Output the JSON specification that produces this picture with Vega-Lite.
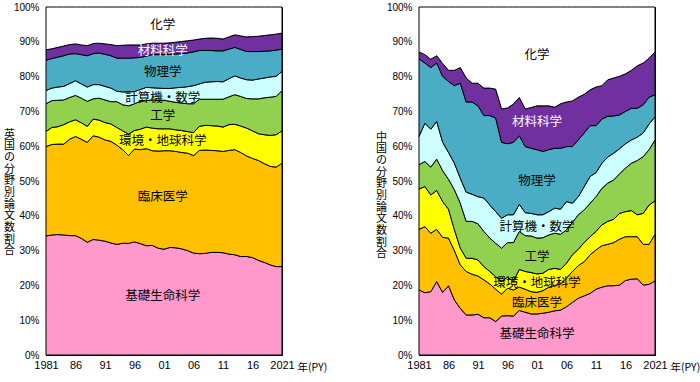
{
  "$schema": "https://vega.github.io/schema/vega-lite/v6.json",
  "background": "white",
  "padding": {"left": 3, "top": 1, "right": 0, "bottom": 5},
  "datasets": {
    "order": [
      {"分野":"基礎生命科学","順":1},
      {"分野":"臨床医学","順":2},
      {"分野":"環境・地球科学","順":3},
      {"分野":"工学","順":4},
      {"分野":"計算機・数学","順":5},
      {"分野":"物理学","順":6},
      {"分野":"材料科学","順":7},
      {"分野":"化学","順":8}
    ],
    "shares": [
      {"国":"英国","年":1981,"基礎生命科学":34.2,"臨床医学":25.7,"環境・地球科学":4.3,"工学":8.0,"計算機・数学":3.8,"物理学":8.7,"材料科学":3.0,"化学":12.3},
      {"国":"英国","年":1982,"基礎生命科学":34.5,"臨床医学":26.0,"環境・地球科学":4.9,"工学":7.7,"計算機・数学":3.6,"物理学":8.5,"材料科学":2.8,"化学":12.0},
      {"国":"英国","年":1983,"基礎生命科学":34.6,"臨床医学":26.0,"環境・地球科学":5.0,"工学":7.6,"計算機・数学":3.8,"物理学":8.6,"材料科学":2.8,"化学":11.6},
      {"国":"英国","年":1984,"基礎生命科学":34.5,"臨床医学":26.1,"環境・地球科学":5.6,"工学":7.1,"計算機・数学":3.9,"物理学":8.8,"材料科学":2.8,"化学":11.2},
      {"国":"英国","年":1985,"基礎生命科学":34.3,"臨床医学":27.7,"環境・地球科学":5.0,"工学":7.0,"計算機・数学":4.0,"物理学":8.5,"材料科学":2.7,"化学":10.8},
      {"国":"英国","年":1986,"基礎生命科学":34.3,"臨床医学":28.5,"環境・地球科学":4.8,"工学":7.0,"計算機・数学":4.2,"物理学":7.8,"材料科学":2.8,"化学":10.6},
      {"国":"英国","年":1987,"基礎生命科学":33.5,"臨床医学":28.5,"環境・地球科学":4.7,"工学":7.1,"計算機・数学":4.1,"物理学":8.4,"材料科学":2.8,"化学":10.9},
      {"国":"英国","年":1988,"基礎生命科学":32.4,"臨床医学":28.7,"環境・地球科学":4.6,"工学":7.2,"計算機・数学":4.1,"物理学":9.0,"材料科学":2.9,"化学":11.1},
      {"国":"英国","年":1989,"基礎生命科学":33.2,"臨床医学":29.8,"環境・地球科学":4.8,"工学":5.8,"計算機・数学":4.1,"物理学":8.9,"材料科学":2.9,"化学":10.5},
      {"国":"英国","年":1990,"基礎生命科学":33.0,"臨床医学":29.6,"環境・地球科学":4.9,"工学":6.3,"計算機・数学":3.9,"物理学":9.1,"材料科学":2.8,"化学":10.4},
      {"国":"英国","年":1991,"基礎生命科学":32.7,"臨床医学":29.1,"環境・地球科学":5.0,"工学":6.5,"計算機・数学":3.9,"物理学":9.2,"材料科学":3.0,"化学":10.6},
      {"国":"英国","年":1992,"基礎生命科学":32.2,"臨床医学":29.2,"環境・地球科学":5.0,"工学":6.4,"計算機・数学":3.9,"物理学":9.3,"材料科学":3.2,"化学":10.8},
      {"国":"英国","年":1993,"基礎生命科学":31.8,"臨床医学":28.5,"環境・地球科学":5.1,"工学":7.4,"計算機・数学":3.0,"物理学":9.5,"材料科学":3.6,"化学":11.1},
      {"国":"英国","年":1994,"基礎生命科学":32.1,"臨床医学":26.9,"環境・地球科学":5.4,"工学":7.5,"計算機・数学":3.7,"物理学":9.7,"材料科学":3.7,"化学":11.0},
      {"国":"英国","年":1995,"基礎生命科学":32.1,"臨床医学":25.2,"環境・地球科学":6.2,"工学":8.1,"計算機・数学":4.0,"物理学":9.7,"材料科学":3.8,"化学":10.9},
      {"国":"英国","年":1996,"基礎生命科学":32.5,"臨床医学":26.7,"環境・地球科学":5.3,"工学":7.7,"計算機・数学":3.5,"物理学":9.7,"材料科学":3.7,"化学":10.9},
      {"国":"英国","年":1997,"基礎生命科学":32.0,"臨床医学":27.0,"環境・地球科学":5.9,"工学":8.0,"計算機・数学":3.4,"物理学":9.2,"材料科学":3.6,"化学":10.9},
      {"国":"英国","年":1998,"基礎生命科学":31.4,"臨床医学":27.9,"環境・地球科学":6.2,"工学":7.6,"計算機・数学":3.8,"物理学":9.0,"材料科学":3.5,"化学":10.6},
      {"国":"英国","年":1999,"基礎生命科学":31.5,"臨床医学":27.2,"環境・地球科学":6.5,"工学":8.1,"計算機・数学":3.5,"物理学":9.5,"材料科学":3.3,"化学":10.4},
      {"国":"英国","年":2000,"基礎生命科学":30.7,"臨床医学":27.9,"環境・地球科学":6.4,"工学":8.2,"計算機・数学":3.5,"物理学":9.6,"材料科学":3.3,"化学":10.4},
      {"国":"英国","年":2001,"基礎生命科学":30.4,"臨床医学":28.3,"環境・地球科学":6.3,"工学":8.2,"計算機・数学":3.4,"物理学":9.7,"材料科学":3.3,"化学":10.4},
      {"国":"英国","年":2002,"基礎生命科学":30.9,"臨床医学":27.8,"環境・地球科学":6.3,"工学":7.9,"計算機・数学":3.7,"物理学":9.8,"材料科学":3.3,"化学":10.3},
      {"国":"英国","年":2003,"基礎生命科学":30.8,"臨床医学":27.7,"環境・地球科学":6.2,"工学":7.9,"計算機・数学":4.2,"物理学":9.7,"材料科学":3.4,"化学":10.1},
      {"国":"英国","年":2004,"基礎生命科学":30.5,"臨床医学":27.7,"環境・地球科学":6.3,"工学":7.9,"計算機・数学":4.5,"物理学":9.7,"材料科学":3.5,"化学":9.9},
      {"国":"英国","年":2005,"基礎生命科学":30.0,"臨床医学":28.0,"環境・地球科学":6.2,"工学":8.0,"計算機・数学":4.9,"物理学":9.7,"材料科学":3.5,"化学":9.7},
      {"国":"英国","年":2006,"基礎生命科学":29.3,"臨床医学":28.0,"環境・地球科学":6.6,"工学":8.3,"計算機・数学":5.2,"物理学":9.7,"材料科学":3.4,"化学":9.5},
      {"国":"英国","年":2007,"基礎生命科学":29.1,"臨床医学":29.7,"環境・地球科学":6.9,"工学":7.8,"計算機・数学":4.4,"物理学":9.6,"材料科学":3.3,"化学":9.2},
      {"国":"英国","年":2008,"基礎生命科学":29.2,"臨床医学":29.7,"環境・地球科学":7.1,"工学":7.5,"計算機・数学":4.9,"物理学":9.1,"材料科学":3.5,"化学":9.0},
      {"国":"英国","年":2009,"基礎生命科学":29.5,"臨床医学":29.3,"環境・地球科学":7.1,"工学":7.6,"計算機・数学":5.0,"物理学":9.0,"材料科学":3.6,"化学":8.9},
      {"国":"英国","年":2010,"基礎生命科学":29.5,"臨床医学":29.2,"環境・地球科学":7.1,"工学":7.7,"計算機・数学":5.1,"物理学":8.8,"材料科学":3.6,"化学":9.0},
      {"国":"英国","年":2011,"基礎生命科学":29.4,"臨床医学":29.1,"環境・地球科学":7.0,"工学":8.0,"計算機・数学":5.0,"物理学":8.9,"材料科学":3.4,"化学":9.2},
      {"国":"英国","年":2012,"基礎生命科学":29.0,"臨床医学":29.8,"環境・地球科学":7.4,"工学":8.0,"計算機・数学":5.2,"物理学":8.5,"材料科学":3.5,"化学":8.6},
      {"国":"英国","年":2013,"基礎生命科学":28.8,"臨床医学":30.2,"環境・地球科学":7.3,"工学":8.5,"計算機・数学":5.4,"物理学":8.2,"材料科学":3.6,"化学":8.0},
      {"国":"英国","年":2014,"基礎生命科学":28.3,"臨床医学":29.9,"環境・地球科学":7.6,"工学":8.5,"計算機・数学":5.3,"物理学":8.2,"材料科学":3.9,"化学":8.3},
      {"国":"英国","年":2015,"基礎生命科学":28.3,"臨床医学":28.9,"環境・地球科学":8.0,"工学":8.5,"計算機・数学":5.4,"物理学":8.1,"材料科学":4.2,"化学":8.6},
      {"国":"英国","年":2016,"基礎生命科学":28.0,"臨床医学":28.5,"環境・地球科学":7.9,"工学":9.2,"計算機・数学":5.4,"物理学":8.2,"材料科学":4.3,"化学":8.5},
      {"国":"英国","年":2017,"基礎生命科学":27.2,"臨床医学":28.7,"環境・地球科学":7.7,"工学":10.0,"計算機・数学":5.7,"物理学":7.9,"材料科学":4.4,"化学":8.4},
      {"国":"英国","年":2018,"基礎生命科学":26.6,"臨床医学":28.4,"環境・地球科学":8.3,"工学":10.6,"計算機・数学":5.7,"物理学":7.7,"材料科学":4.5,"化学":8.2},
      {"国":"英国","年":2019,"基礎生命科学":25.9,"臨床医学":28.3,"環境・地球科学":8.9,"工学":11.0,"計算機・数学":5.8,"物理学":7.5,"材料科学":4.6,"化学":8.0},
      {"国":"英国","年":2020,"基礎生命科学":25.4,"臨床医学":28.6,"環境・地球科学":9.3,"工学":11.0,"計算機・数学":5.8,"物理学":7.5,"材料科学":4.6,"化学":7.8},
      {"国":"英国","年":2021,"基礎生命科学":25.4,"臨床医学":29.7,"環境・地球科学":9.3,"工学":11.6,"計算機・数学":5.5,"物理学":6.4,"材料科学":4.6,"化学":7.5},
      {"国":"中国","年":1981,"基礎生命科学":18.7,"臨床医学":17.4,"環境・地球科学":11.6,"工学":7.0,"計算機・数学":8.1,"物理学":22.3,"材料科学":2.0,"化学":12.9},
      {"国":"中国","年":1982,"基礎生命科学":17.9,"臨床医学":19.0,"環境・地球科学":11.5,"工学":7.2,"計算機・数学":11.0,"物理学":17.3,"材料科学":2.4,"化学":13.7},
      {"国":"中国","年":1983,"基礎生命科学":18.2,"臨床医学":16.8,"環境・地球科学":11.0,"工学":8.0,"計算機・数学":10.9,"物理学":17.7,"材料科学":2.4,"化学":15.0},
      {"国":"中国","年":1984,"基礎生命科学":21.1,"臨床医学":15.0,"環境・地球科学":11.2,"工学":9.0,"計算機・数学":10.8,"物理学":16.8,"材料科学":2.1,"化学":14.0},
      {"国":"中国","年":1985,"基礎生命科学":18.0,"臨床医学":15.8,"環境・地球科学":10.3,"工学":8.9,"計算機・数学":8.2,"物理学":18.9,"材料科学":3.7,"化学":16.2},
      {"国":"中国","年":1986,"基礎生命科学":19.9,"臨床医学":13.7,"環境・地球科学":8.3,"工学":8.6,"計算機・数学":7.7,"物理学":20.4,"材料科学":3.2,"化学":18.2},
      {"国":"中国","年":1987,"基礎生命科学":15.8,"臨床医学":14.2,"環境・地球科学":6.0,"工学":11.5,"計算機・数学":7.6,"物理学":22.3,"材料科学":4.4,"化学":18.2},
      {"国":"中国","年":1988,"基礎生命科学":13.4,"臨床医学":12.5,"環境・地球科学":4.8,"工学":12.9,"計算機・数学":7.2,"物理学":27.3,"材料科学":4.5,"化学":17.4},
      {"国":"中国","年":1989,"基礎生命科学":11.5,"臨床医学":12.5,"環境・地球科学":3.8,"工学":10.6,"計算機・数学":8.4,"物理学":25.9,"材料科学":6.9,"化学":20.4},
      {"国":"中国","年":1990,"基礎生命科学":11.5,"臨床医学":11.7,"環境・地球科学":4.6,"工学":10.6,"計算機・数学":7.8,"物理学":26.5,"材料科学":5.4,"化学":21.9},
      {"国":"中国","年":1991,"基礎生命科学":11.7,"臨床医学":11.0,"環境・地球科学":4.6,"工学":10.4,"計算機・数学":7.8,"物理学":26.1,"材料科学":6.5,"化学":21.9},
      {"国":"中国","年":1992,"基礎生命科学":10.7,"臨床医学":10.9,"環境・地球科学":3.8,"工学":10.1,"計算機・数学":9.6,"物理学":23.7,"材料科学":7.9,"化学":23.3},
      {"国":"中国","年":1993,"基礎生命科学":10.7,"臨床医学":9.7,"環境・地球科学":3.6,"工学":9.6,"計算機・数学":9.5,"物理学":25.7,"材料科学":7.9,"化学":23.3},
      {"国":"中国","年":1994,"基礎生命科学":9.6,"臨床医学":9.3,"環境・地球科学":3.6,"工学":9.6,"計算機・数学":9.1,"物理学":26.9,"材料科学":8.3,"化学":23.6},
      {"国":"中国","年":1995,"基礎生命科学":11.2,"臨床医学":6.3,"環境・地球科学":3.6,"工学":9.6,"計算機・数学":8.6,"物理学":21.8,"材料科学":9.6,"化学":29.3},
      {"国":"中国","年":1996,"基礎生命科学":11.3,"臨床医学":7.9,"環境・地球科学":3.2,"工学":9.9,"計算機・数学":8.0,"物理学":20.4,"材料科学":10.3,"化学":29.0},
      {"国":"中国","年":1997,"基礎生命科学":11.2,"臨床医学":7.5,"環境・地球科学":2.4,"工学":11.2,"計算機・数学":8.0,"物理学":20.8,"材料科学":11.0,"化学":27.9},
      {"国":"中国","年":1998,"基礎生命科学":12.8,"臨床医学":6.7,"環境・地球科学":5.1,"工学":10.9,"計算機・数学":7.8,"物理学":19.7,"材料科学":11.0,"化学":26.0},
      {"国":"中国","年":1999,"基礎生命科学":12.3,"臨床医学":6.6,"環境・地球科学":5.1,"工学":10.3,"計算機・数学":6.6,"物理学":19.0,"材料科学":10.8,"化学":29.3},
      {"国":"中国","年":2000,"基礎生命科学":11.8,"臨床医学":6.4,"環境・地球科学":5.5,"工学":10.5,"計算機・数学":6.5,"物理学":18.7,"材料科学":11.7,"化学":28.9},
      {"国":"中国","年":2001,"基礎生命科学":11.8,"臨床医学":6.2,"環境・地球科学":5.3,"工学":10.3,"計算機・数学":6.7,"物理学":18.7,"材料科学":12.6,"化学":28.4},
      {"国":"中国","年":2002,"基礎生命科学":12.0,"臨床医学":6.5,"環境・地球科学":5.0,"工学":10.2,"計算機・数学":6.6,"物理学":18.2,"材料科学":13.1,"化学":28.4},
      {"国":"中国","年":2003,"基礎生命科学":12.3,"臨床医学":7.2,"環境・地球科学":5.1,"工学":9.9,"計算機・数学":6.7,"物理学":17.8,"材料科学":12.6,"化学":28.4},
      {"国":"中国","年":2004,"基礎生命科学":12.7,"臨床医学":7.3,"環境・地球科学":4.9,"工学":10.1,"計算機・数学":7.2,"物理学":17.2,"材料科学":11.8,"化学":28.8},
      {"国":"中国","年":2005,"基礎生命科学":12.9,"臨床医学":7.5,"環境・地球科学":4.2,"工学":10.1,"計算機・数学":7.2,"物理学":17.5,"材料科学":12.8,"化学":27.8},
      {"国":"中国","年":2006,"基礎生命科学":13.9,"臨床医学":8.2,"環境・地球科学":4.3,"工学":9.6,"計算機・数学":8.1,"物理学":15.8,"材料科学":12.8,"化学":27.3},
      {"国":"中国","年":2007,"基礎生命科学":15.1,"臨床医学":8.9,"環境・地球科学":4.8,"工学":9.3,"計算機・数学":5.5,"物理学":16.3,"材料科学":13.1,"化学":27.0},
      {"国":"中国","年":2008,"基礎生命科学":16.3,"臨床医学":9.4,"環境・地球科学":4.7,"工学":9.9,"計算機・数学":5.2,"物理学":16.3,"材料科学":12.3,"化学":25.9},
      {"国":"中国","年":2009,"基礎生命科学":17.0,"臨床医学":9.8,"環境・地球科学":5.5,"工学":9.4,"計算機・数学":6.7,"物理学":15.4,"材料科学":11.1,"化学":25.1},
      {"国":"中国","年":2010,"基礎生命科学":17.7,"臨床医学":11.1,"環境・地球科学":5.2,"工学":9.6,"計算機・数学":7.7,"物理学":14.6,"材料科学":10.3,"化学":23.8},
      {"国":"中国","年":2011,"基礎生命科学":18.9,"臨床医学":11.3,"環境・地球科学":5.3,"工学":10.0,"計算機・数学":6.9,"物理学":13.5,"材料科学":11.1,"化学":23.0},
      {"国":"中国","年":2012,"基礎生命科学":19.5,"臨床医学":11.9,"環境・地球科学":6.0,"工学":10.5,"計算機・数学":7.2,"物理学":12.7,"材料科学":9.6,"化学":22.6},
      {"国":"中国","年":2013,"基礎生命科学":19.9,"臨床医学":11.9,"環境・地球科学":6.6,"工学":11.0,"計算機・数学":7.5,"物理学":11.7,"材料科学":10.5,"化学":20.9},
      {"国":"中国","年":2014,"基礎生命科学":19.9,"臨床医学":12.4,"環境・地球科学":6.7,"工学":11.3,"計算機・数学":7.7,"物理学":10.7,"材料科学":10.9,"化学":20.4},
      {"国":"中国","年":2015,"基礎生命科学":20.1,"臨床医学":13.2,"環境・地球科学":7.4,"工学":11.4,"計算機・数学":7.2,"物理学":9.7,"材料科学":11.1,"化学":19.9},
      {"国":"中国","年":2016,"基礎生命科学":21.4,"臨床医学":12.6,"環境・地球科学":7.2,"工学":12.5,"計算機・数学":7.0,"物理学":9.3,"材料科学":10.8,"化学":19.2},
      {"国":"中国","年":2017,"基礎生命科学":21.8,"臨床医学":12.2,"環境・地球科学":7.5,"工学":13.6,"計算機・数学":6.7,"物理学":9.1,"材料科学":10.9,"化学":18.2},
      {"国":"中国","年":2018,"基礎生命科学":21.9,"臨床医学":12.1,"環境・地球科学":6.3,"工学":15.6,"計算機・数学":6.7,"物理学":8.3,"材料科学":12.2,"化学":16.9},
      {"国":"中国","年":2019,"基礎生命科学":20.1,"臨床医学":11.7,"環境・地球科学":8.9,"工学":16.3,"計算機・数学":6.8,"物理学":8.1,"材料科学":12.0,"化学":16.1},
      {"国":"中国","年":2020,"基礎生命科学":20.3,"臨床医学":11.5,"環境・地球科学":11.3,"工学":15.9,"計算機・数学":7.4,"物理学":7.7,"材料科学":11.2,"化学":14.7},
      {"国":"中国","年":2021,"基礎生命科学":21.3,"臨床医学":13.4,"環境・地球科学":9.6,"工学":17.5,"計算機・数学":6.6,"物理学":6.4,"材料科学":12.3,"化学":12.9}
    ],
    "labels": [
      {"国":"英国","分野":"化学","年":2000.8,"割合":94.8},
      {"国":"英国","分野":"材料科学","年":2000.8,"割合":87.4},
      {"国":"英国","分野":"物理学","年":2000.8,"割合":81.3},
      {"国":"英国","分野":"計算機・数学","年":2000.8,"割合":73.9},
      {"国":"英国","分野":"工学","年":2000.8,"割合":68.7},
      {"国":"英国","分野":"環境・地球科学","年":2000.8,"割合":61.5},
      {"国":"英国","分野":"臨床医学","年":2000.8,"割合":45.4},
      {"国":"英国","分野":"基礎生命科学","年":2000.8,"割合":17.0},
      {"国":"中国","分野":"化学","年":2001.0,"割合":86.2},
      {"国":"中国","分野":"材料科学","年":2001.0,"割合":67.0},
      {"国":"中国","分野":"物理学","年":2001.0,"割合":50.0},
      {"国":"中国","分野":"計算機・数学","年":2001.0,"割合":36.8},
      {"国":"中国","分野":"工学","年":2001.0,"割合":28.2},
      {"国":"中国","分野":"環境・地球科学","年":2001.0,"割合":20.7},
      {"国":"中国","分野":"臨床医学","年":2001.0,"割合":14.9},
      {"国":"中国","分野":"基礎生命科学","年":2001.0,"割合":6.0}
    ]
  },
  "spacing": 137,
  "bounds": "flush",
  "hconcat": [
    {
      "width": 236,
      "height": 348,
      "layer": [
        {
          "data": {"name": "shares"},
          "transform": [
            {"filter": "datum['国'] == '英国'"},
            {"fold": ["基礎生命科学","臨床医学","環境・地球科学","工学","計算機・数学","物理学","材料科学","化学"], "as": ["分野","割合"]},
            {"lookup": "分野", "from": {"data": {"name": "order"}, "key": "分野", "fields": ["順"]}}
          ],
          "mark": {"type": "area", "stroke": "black", "strokeWidth": 1, "strokeJoin": "round", "opacity": 1},
          "encoding": {
            "x": {"field": "年", "type": "quantitative", "scale": {"domain": [1981, 2021], "nice": false, "zero": false},
              "axis": {"title": "年(PY)", "tickCount": 40,
                "format": "d", "labelOverlap": false, "labelFlush": false, "labelSeparation": 0,
                "labelExpr": "(datum.value - 1981) % 5 == 0 ? ((datum.value == 1981 || datum.value == 2021) ? datum.label : substring(datum.label, 2)) : ''",
                "titleX": 251, "titleY": 12, "titleAlign": "left", "titleBaseline": "middle", "titleFontWeight": "normal", "titleFontSize": 10.5}},
            "y": {"field": "割合", "type": "quantitative", "stack": "zero", "scale": {"domain": [0, 100], "nice": false},
              "axis": {"title": ["英","国","の","分","野","別","論","文","数","割","合"], "tickCount": 10, "labelExpr": "datum.value + '%'",
                "labelOverlap": false, "labelFlush": false,
                "titleAngle": 0, "titleX": -37, "titleY": 121, "titleAlign": "center", "titleBaseline": "top", "titleLineHeight": 11.7, "titleFontSize": 11, "titleFontWeight": "normal"}},
            "color": {"field": "分野", "type": "nominal",
              "scale": {"domain": ["基礎生命科学","臨床医学","環境・地球科学","工学","計算機・数学","物理学","材料科学","化学"], "range": ["#FF99CC","#FFC000","#FFFF00","#92D050","#CCFFFF","#4BACC6","#7030A0","#FFFFFF"]}, "legend": null},
            "order": {"field": "順", "type": "quantitative", "sort": "ascending"}
          }
        },
        {
          "data": {"name": "labels"},
          "transform": [{"filter": "datum['国'] == '英国'"}],
          "mark": {"type": "text", "font": "Noto Sans CJK JP", "fontSize": 12.5, "align": "center", "baseline": "middle"},
          "encoding": {
            "x": {"field": "年", "type": "quantitative"},
            "y": {"field": "割合", "type": "quantitative"},
            "text": {"field": "分野"},
            "color": {"condition": {"test": "datum['分野'] == '材料科学'", "value": "white"}, "value": "black"}
          }
        }
      ]
    },
    {
      "width": 236,
      "height": 348,
      "layer": [
        {
          "data": {"name": "shares"},
          "transform": [
            {"filter": "datum['国'] == '中国'"},
            {"fold": ["基礎生命科学","臨床医学","環境・地球科学","工学","計算機・数学","物理学","材料科学","化学"], "as": ["分野","割合"]},
            {"lookup": "分野", "from": {"data": {"name": "order"}, "key": "分野", "fields": ["順"]}}
          ],
          "mark": {"type": "area", "stroke": "black", "strokeWidth": 1, "strokeJoin": "round", "opacity": 1},
          "encoding": {
            "x": {"field": "年", "type": "quantitative", "scale": {"domain": [1981, 2021], "nice": false, "zero": false},
              "axis": {"title": "年(PY)", "tickCount": 40,
                "format": "d", "labelOverlap": false, "labelFlush": false, "labelSeparation": 0,
                "labelExpr": "(datum.value - 1981) % 5 == 0 ? ((datum.value == 1981 || datum.value == 2021) ? datum.label : substring(datum.label, 2)) : ''",
                "titleX": 251, "titleY": 12, "titleAlign": "left", "titleBaseline": "middle", "titleFontWeight": "normal", "titleFontSize": 10.5}},
            "y": {"field": "割合", "type": "quantitative", "stack": "zero", "scale": {"domain": [0, 100], "nice": false},
              "axis": {"title": ["中","国","の","分","野","別","論","文","数","割","合"], "tickCount": 10, "labelExpr": "datum.value + '%'",
                "labelOverlap": false, "labelFlush": false,
                "titleAngle": 0, "titleX": -38, "titleY": 124, "titleAlign": "center", "titleBaseline": "top", "titleLineHeight": 11.7, "titleFontSize": 11, "titleFontWeight": "normal"}},
            "color": {"field": "分野", "type": "nominal",
              "scale": {"domain": ["基礎生命科学","臨床医学","環境・地球科学","工学","計算機・数学","物理学","材料科学","化学"], "range": ["#FF99CC","#FFC000","#FFFF00","#92D050","#CCFFFF","#4BACC6","#7030A0","#FFFFFF"]}, "legend": null},
            "order": {"field": "順", "type": "quantitative", "sort": "ascending"}
          }
        },
        {
          "data": {"name": "labels"},
          "transform": [{"filter": "datum['国'] == '中国'"}],
          "mark": {"type": "text", "font": "Noto Sans CJK JP", "fontSize": 12.5, "align": "center", "baseline": "middle"},
          "encoding": {
            "x": {"field": "年", "type": "quantitative"},
            "y": {"field": "割合", "type": "quantitative"},
            "text": {"field": "分野"},
            "color": {"condition": {"test": "datum['分野'] == '材料科学'", "value": "white"}, "value": "black"}
          }
        }
      ]
    }
  ],
  "config": {
    "font": "Liberation Sans",
    "view": {"stroke": "black", "strokeWidth": 1},
    "axis": {
      "grid": false,
      "domain": false,
      "ticks": true,
      "tickSize": -3,
      "tickColor": "black",
      "labelColor": "black",
      "titleColor": "black",
      "labelFontSize": 10,
      "titleFont": "Noto Sans CJK JP",
      "labelFont": "Liberation Sans"
    },
    "axisX": {"labelFontSize": 11, "labelPadding": 7},
    "axisY": {"labelPadding": 10}
  }
}
